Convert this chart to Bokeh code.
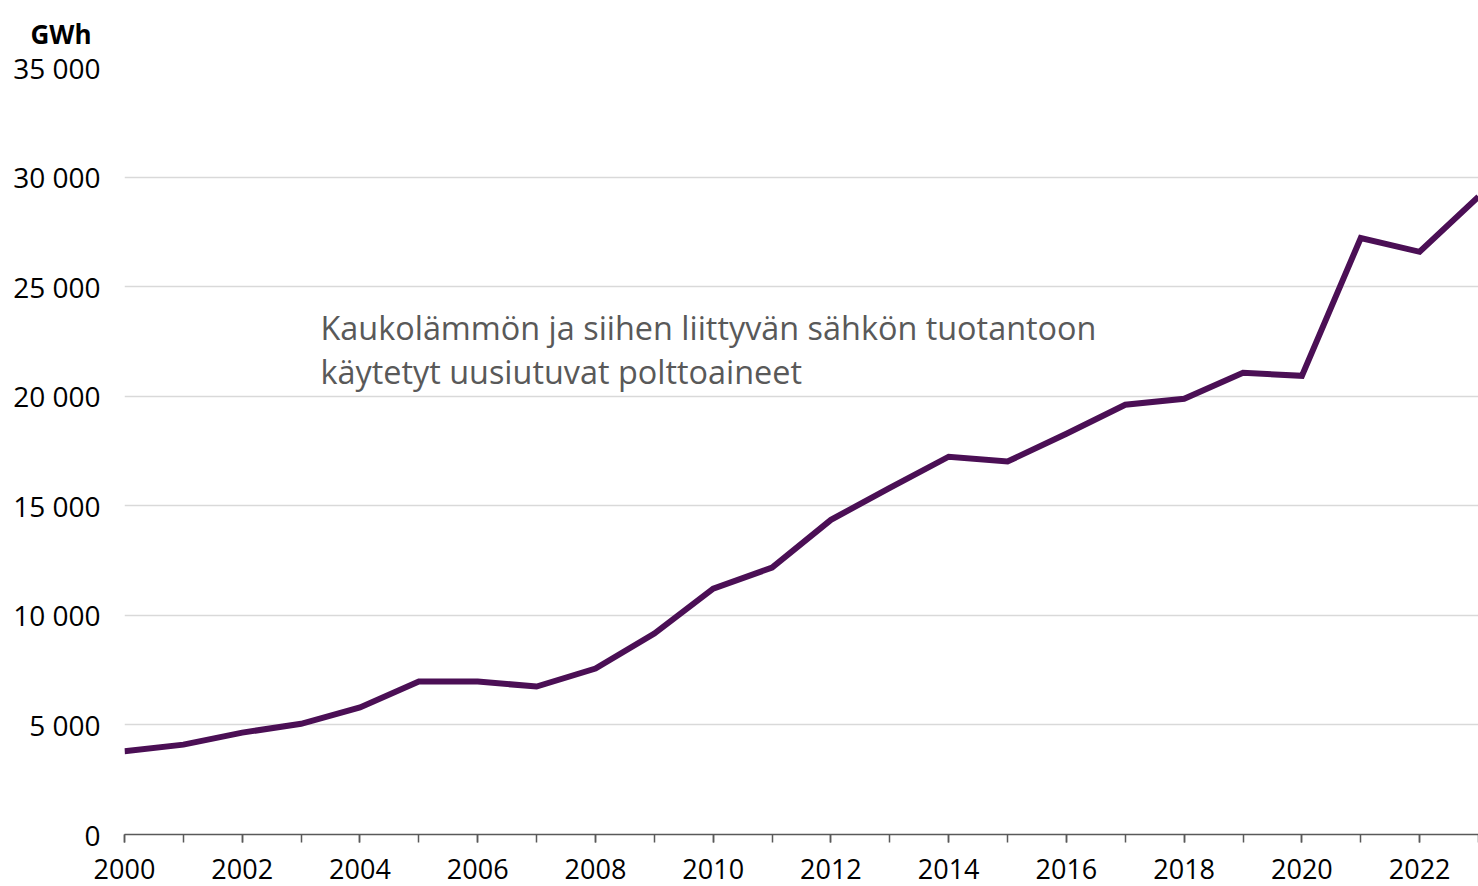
from bokeh.plotting import figure
from bokeh.models import Range1d, SingleIntervalTicker, FixedTicker, Label
from bokeh.embed import file_html
from bokeh.resources import INLINE

years = list(range(2000, 2024))
values = [3800, 4100, 4650, 5050, 5800, 6980, 6980, 6750, 7570, 9170,
          11220, 12180, 14360, 15820, 17240, 17020, 18290, 19610, 19880, 21070,
          20930, 27220, 26590, 29100]
y_ticks = [0, 5000, 10000, 15000, 20000, 25000, 30000, 35000]
y_tick_labels = ["0", "5 000", "10 000", "15 000", "20 000", "25 000", "30 000", "35 000"]
unit_label = "GWh"
note_lines = ["Kaukolämmön ja siihen liittyvän sähkön tuotantoon",
              "käytetyt uusiutuvat polttoaineet"]

FONT = "Open Sans"
W, H = 1478, 886
LEFT, TOP, BOTTOM = 124, 67, 52

p = figure(width=W, height=H, output_backend="svg", toolbar_location=None,
           x_range=Range1d(2000, 2023), y_range=Range1d(0, 35000),
           min_border_left=LEFT, min_border_right=0, min_border_top=TOP, min_border_bottom=BOTTOM)
p.outline_line_color = None
p.background_fill_color = "white"
p.border_fill_color = "white"

# unit label as title
p.title.text = unit_label
p.title.align = "left"
p.title.offset = -94
p.title.text_font = FONT
p.title.text_font_size = "26px"
p.title.text_font_style = "bold"
p.title.text_color = "#000000"
p.title.vertical_align = "top"
p.title.standoff = 28

# grid
p.xgrid.grid_line_color = None
p.ygrid.grid_line_color = "#d9d9d9"
p.ygrid.grid_line_width = 1.5
p.yaxis.ticker = FixedTicker(ticks=y_ticks)
p.ygrid.ticker = FixedTicker(ticks=y_ticks)

# y axis
p.yaxis.axis_line_color = None
p.yaxis.major_tick_line_color = None
p.yaxis.minor_tick_line_color = None
p.yaxis.major_label_overrides = {t: l for t, l in zip(y_ticks, y_tick_labels)}
p.yaxis.major_label_text_font = FONT
p.yaxis.major_label_text_font_size = "28px"
p.yaxis.major_label_text_color = "#000000"
p.yaxis.major_label_standoff = 24
p.yaxis.major_tick_out = 0
p.yaxis.major_tick_in = 0

# x axis
p.xaxis.ticker = SingleIntervalTicker(interval=2, num_minor_ticks=2)
p.xaxis.axis_line_color = "#595959"
p.xaxis.axis_line_width = 1.5
p.xaxis.major_tick_line_color = "#595959"
p.xaxis.minor_tick_line_color = "#595959"
p.xaxis.major_tick_line_width = 1.5
p.xaxis.minor_tick_line_width = 1.5
p.xaxis.major_tick_out = 8
p.xaxis.major_tick_in = 0
p.xaxis.minor_tick_out = 8
p.xaxis.minor_tick_in = 0
p.xaxis.major_label_text_font = FONT
p.xaxis.major_label_text_font_size = "27px"
p.xaxis.major_label_text_color = "#000000"
p.xaxis.major_label_standoff = 16

p.line(years, values, line_color="#4B0F55", line_width=6, line_join="miter")

# note
frame_h = H - TOP - BOTTOM
px_per_year = (W - LEFT) / 23
val_per_px = 35000 / frame_h
bottom_y = H - BOTTOM
for i, line in enumerate(note_lines):
    p.add_layout(Label(x=2000 + 196 / px_per_year, y=(bottom_y - 326 - 44 * i) * val_per_px, text=line,
                       text_font=FONT, text_font_size="32.4px", text_color="#595959",
                       text_align="left", text_baseline="middle"))

open("out.html", "w").write(file_html(p, INLINE))
